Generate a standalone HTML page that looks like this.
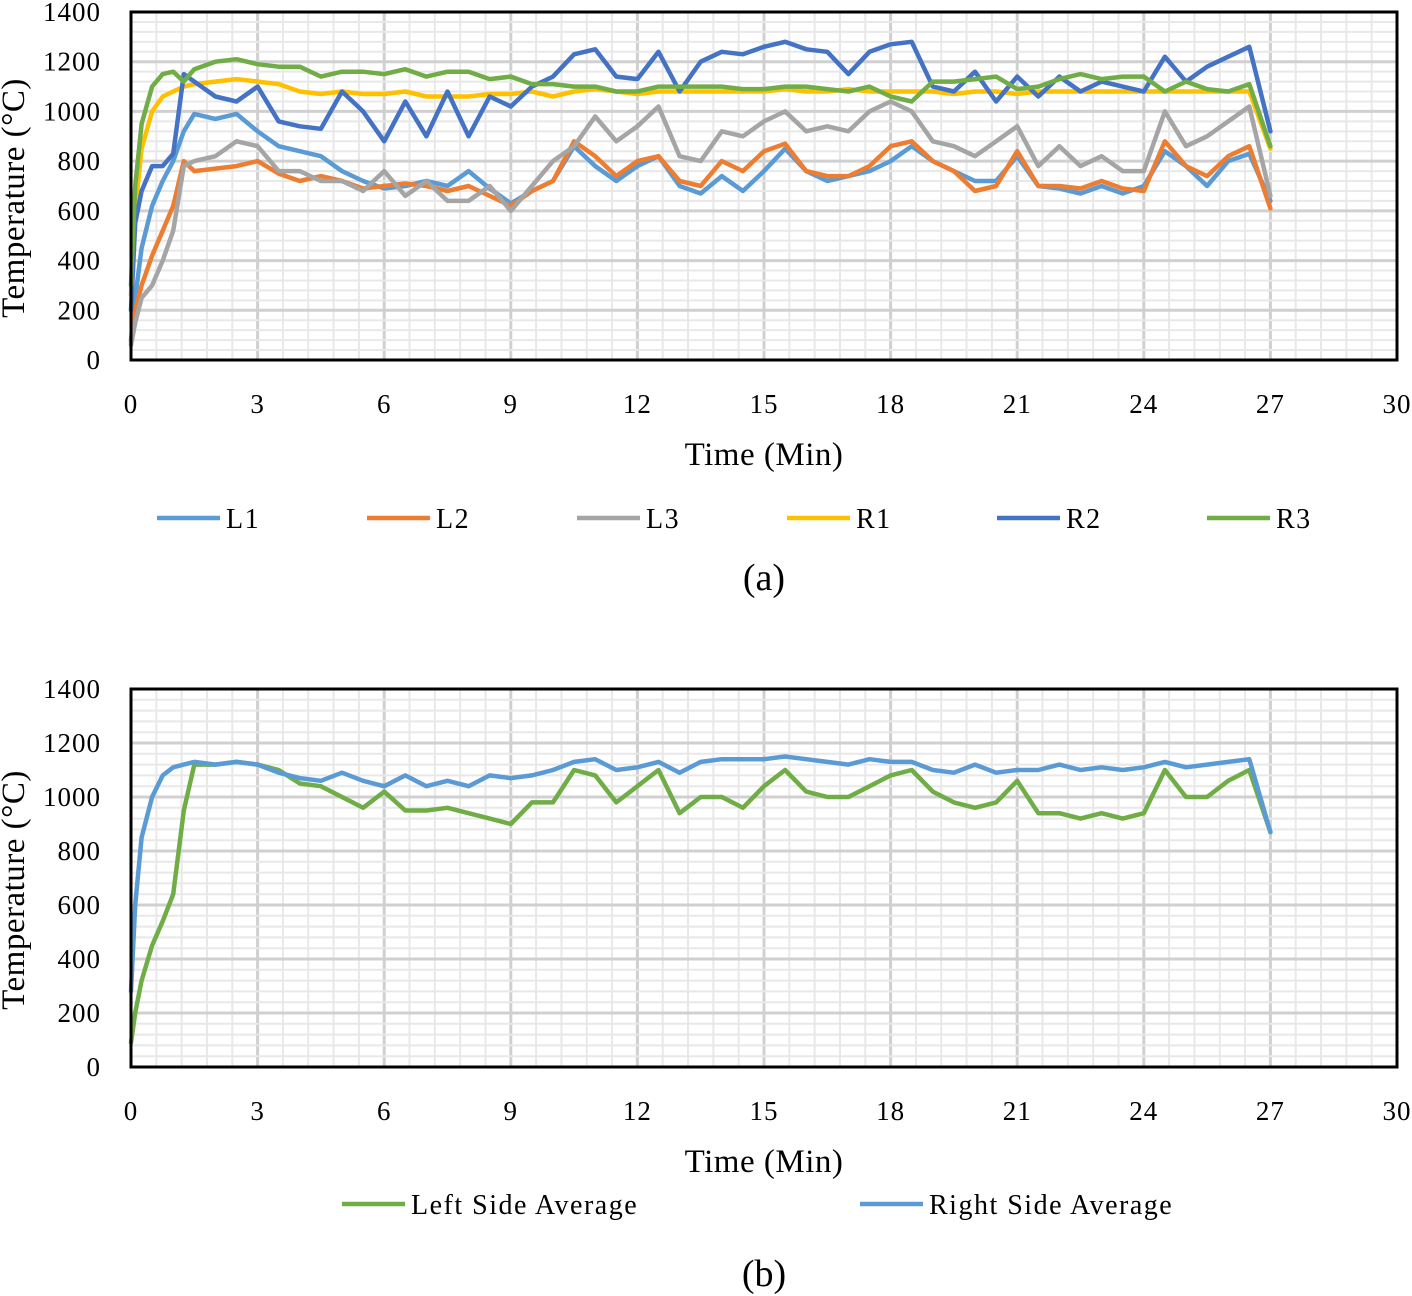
<!DOCTYPE html>
<html><head><meta charset="utf-8"><style>
html,body{margin:0;padding:0;background:#fff}
svg{display:block;font-family:"Liberation Serif",serif}
</style></head><body>
<svg id="s" width="1412" height="1296"></svg>
<script>
const times=[0,0.1,0.25,0.5,0.75,1,1.25,1.5,2,2.5,3,3.5,4,4.5,5,5.5,6,6.5,7,7.5,8,8.5,9,9.5,10,10.5,11,11.5,12,12.5,13,13.5,14,14.5,15,15.5,16,16.5,17,17.5,18,18.5,19,19.5,20,20.5,21,21.5,22,22.5,23,23.5,24,24.5,25,25.5,26,26.5,27];
const L1=[80,250,450,620,720,800,920,990,970,990,920,860,840,820,760,720,690,700,720,700,760,690,630,680,720,860,780,720,780,820,700,670,740,680,760,850,760,720,740,760,800,860,800,760,720,720,820,700,690,670,700,670,700,840,780,700,800,830,640];
const L2=[70,200,300,420,520,620,800,760,770,780,800,750,720,740,720,690,700,710,700,680,700,660,620,680,720,880,820,740,800,820,720,700,800,760,840,870,760,740,740,780,860,880,800,760,680,700,840,700,700,690,720,690,680,880,780,740,820,860,610];
const L3=[60,150,250,300,400,520,780,800,820,880,860,760,760,720,720,680,760,660,720,640,640,700,600,700,800,860,980,880,940,1020,820,800,920,900,960,1000,920,940,920,1000,1040,1000,880,860,820,880,940,780,860,780,820,760,760,1000,860,900,960,1020,660];
const R1=[260,600,850,1000,1060,1080,1100,1110,1120,1130,1120,1110,1080,1070,1080,1070,1070,1080,1060,1060,1060,1070,1070,1080,1060,1080,1090,1080,1070,1080,1080,1080,1080,1080,1080,1090,1080,1080,1090,1080,1080,1080,1080,1070,1080,1080,1070,1080,1080,1080,1080,1080,1080,1080,1080,1080,1080,1080,850];
const R2=[200,550,680,780,780,830,1150,1120,1060,1040,1100,960,940,930,1080,1000,880,1040,900,1080,900,1060,1020,1100,1140,1230,1250,1140,1130,1240,1080,1200,1240,1230,1260,1280,1250,1240,1150,1240,1270,1280,1100,1080,1160,1040,1140,1060,1140,1080,1120,1100,1080,1220,1120,1180,1220,1260,920];
const R3=[300,700,950,1100,1150,1160,1120,1170,1200,1210,1190,1180,1180,1140,1160,1160,1150,1170,1140,1160,1160,1130,1140,1110,1110,1100,1100,1080,1080,1100,1100,1100,1100,1090,1090,1100,1100,1090,1080,1100,1060,1040,1120,1120,1130,1140,1090,1100,1130,1150,1130,1140,1140,1080,1120,1090,1080,1110,860];
const LAvg=[90,200,320,450,540,640,950,1120,1120,1130,1120,1100,1050,1040,1000,960,1020,950,950,960,940,920,900,980,980,1100,1080,980,1040,1100,940,1000,1000,960,1040,1100,1020,1000,1000,1040,1080,1100,1020,980,960,980,1060,940,940,920,940,920,940,1100,1000,1000,1060,1100,870];
const RAvg=[280,600,850,1000,1080,1110,1120,1130,1120,1130,1120,1090,1070,1060,1090,1060,1040,1080,1040,1060,1040,1080,1070,1080,1100,1130,1140,1100,1110,1130,1090,1130,1140,1140,1140,1150,1140,1130,1120,1140,1130,1130,1100,1090,1120,1090,1100,1100,1120,1100,1110,1100,1110,1130,1110,1120,1130,1140,870];
const xTicks=[0,3,6,9,12,15,18,21,24,27,30];
const yTicks=[0,200,400,600,800,1000,1200,1400];

const NS="http://www.w3.org/2000/svg",svg=document.getElementById('s');
function el(t,a,p,txt){const e=document.createElementNS(NS,t);for(const k in a)e.setAttribute(k,a[k]);if(txt!==undefined)e.textContent=txt;(p||svg).appendChild(e);return e;}
function chart(id,top,bottom,series,legend,legendY,capY,cap){
  const L=131,R=1397;
  const g=el('g',{});
  
  
  const xs=t=>L+(R-L)*t/30, ys=v=>bottom-(bottom-top)*v/1400;
  for(let i=0;i<=50;i++){const x=xs(i*0.6);const l=el('line',{x1:x,x2:x,y1:top,y2:bottom,stroke:i%5?'#e8e8e8':'#d0d0d0','stroke-width':i%5?2:3},g);}
  for(let i=0;i<=35;i++){const y=ys(i*40);const l=el('line',{x1:L,x2:R,y1:y,y2:y,stroke:i%5?'#e8e8e8':'#d0d0d0','stroke-width':i%5?2:3},g);}
  series.forEach(s=>{const p=el('polyline',{points:s.d.map((v,i)=>xs(times[i]).toFixed(1)+','+ys(v).toFixed(1)).join(' '),fill:'none',stroke:s.c,'stroke-width':4.5,'stroke-linejoin':'round','stroke-linecap':'round'},g);});
  const b=el('rect',{x:L,y:top,width:R-L,height:bottom-top,fill:'none',stroke:'#000','stroke-width':3},g);
  xTicks.forEach(t=>{const e=el('text',{x:xs(t),y:bottom+53,'font-size':27,'letter-spacing':1,'text-anchor':'middle'},g,t);});
  yTicks.forEach(v=>{const e=el('text',{x:101,y:ys(v)+9,'font-size':27,'letter-spacing':1,'text-anchor':'end'},g,v);});
  let e=el('text',{x:764,y:bottom+105,'font-size':33,'letter-spacing':0.5,'text-anchor':'middle'},g,'Time (Min)');
  const cy=(top+bottom)/2+12;
  e=el('text',{x:0,y:0,'font-size':33,'letter-spacing':0.5,'text-anchor':'middle',transform:`translate(24,${cy}) rotate(-90)`},g,'Temperature (°C)');
  legend.forEach(([x,i])=>{const s=series[i];const lg=el('g',{},g);
    el('line',{x1:x,x2:x+63,y1:legendY,y2:legendY,stroke:s.c,'stroke-width':4.5},lg);
    el('text',{x:x+69,y:legendY+10,'font-size':28,'letter-spacing':1.5},lg,s.n);});
  e=el('text',{x:764,y:capY,'font-size':38,'text-anchor':'middle'},g,cap);
}
chart('chart-a',12,360,[{n:'L1',d:L1,c:'#5b9bd5'},{n:'L2',d:L2,c:'#ed7d31'},{n:'L3',d:L3,c:'#a5a5a5'},{n:'R1',d:R1,c:'#ffc000'},{n:'R2',d:R2,c:'#4472c4'},{n:'R3',d:R3,c:'#70ad47'}],
  [[157,0],[367,1],[577,2],[787,3],[997,4],[1207,5]],518,590,'(a)');
chart('chart-b',689,1067,[{n:'Left Side Average',d:LAvg,c:'#70ad47'},{n:'Right Side Average',d:RAvg,c:'#5b9bd5'}],
  [[342,0],[860,1]],1204,1286,'(b)');
</script>
</body></html>
